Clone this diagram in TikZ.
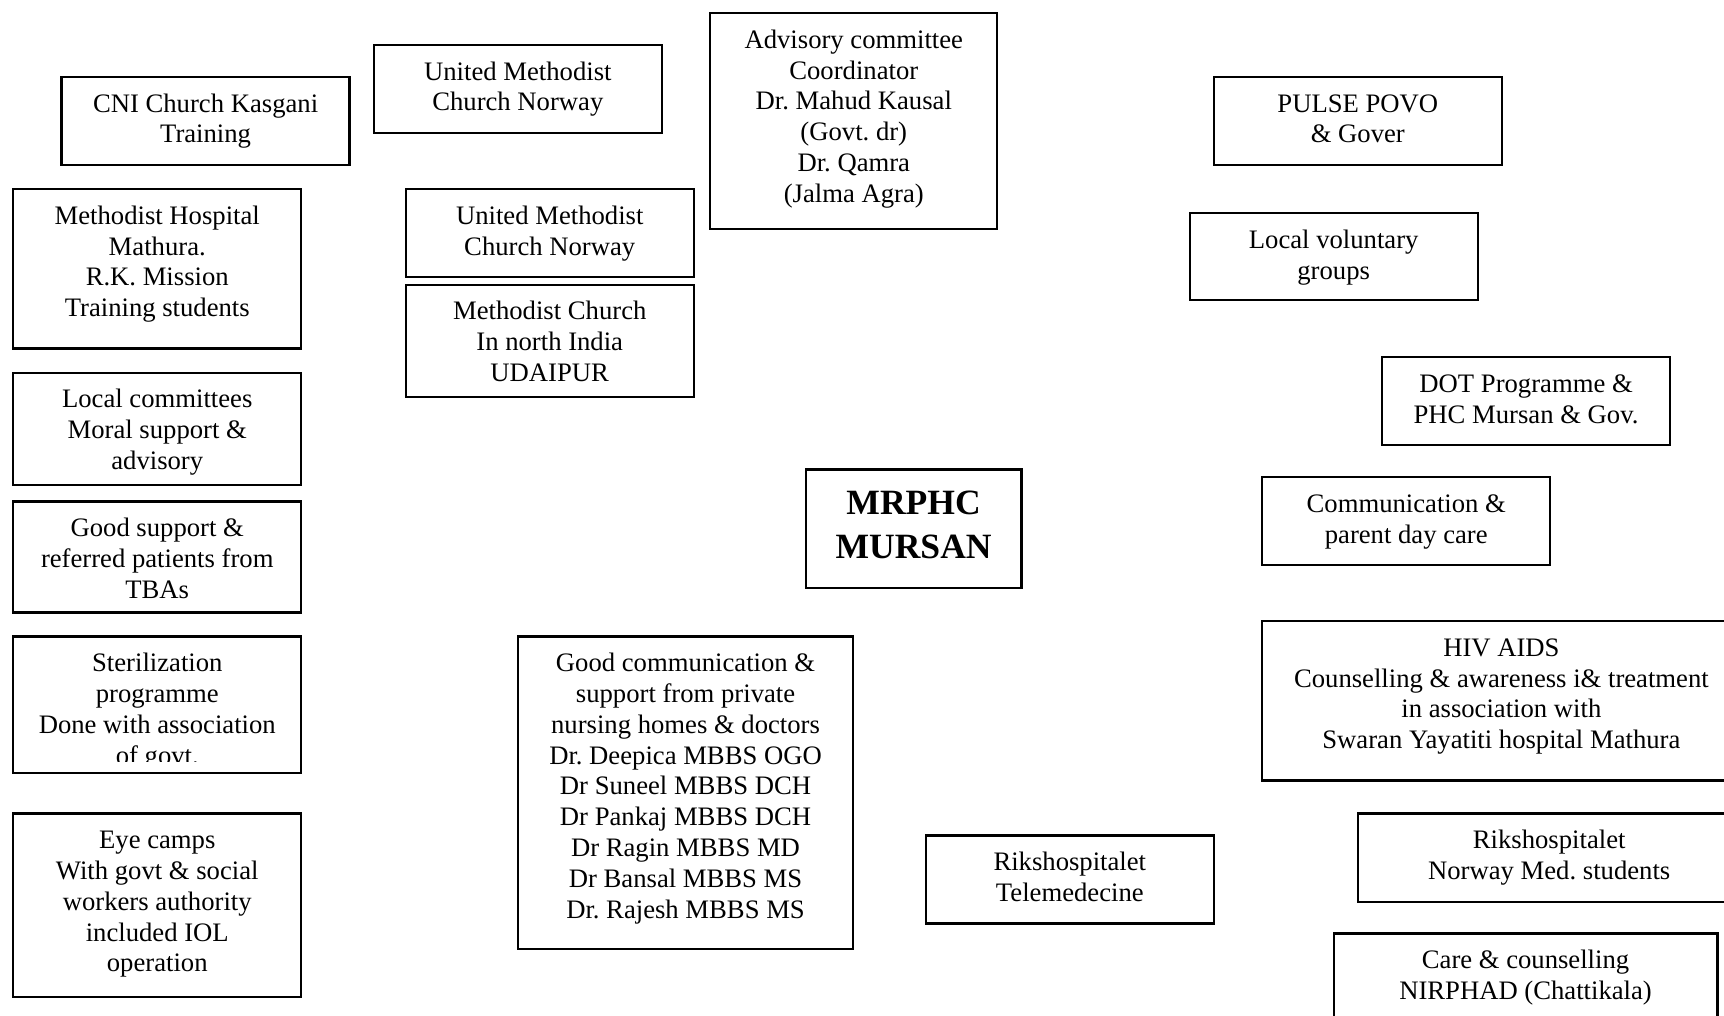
\documentclass[tikz,border=0pt]{standalone}
\usepackage{fontspec}
\setmainfont{Liberation Serif}
\usepackage{tikz}
\frenchspacing
\def\largeur{1724}
\def\hauteur{1016}
% box from (x1,y1) to (x2,y2), text hung from the top edge
\newcommand{\panel}[6]{%
	\draw[panel] (#2,#3) rectangle (#4,#5);
	\node[paneltext] (#1) at ({(#2+#4)/2},#3) {\strut #6};
}

\begin{document}
\begin{tikzpicture}[x=0.45pt, y=-0.45pt,
	panel/.style={line width=1pt, black},
	paneltext/.style={anchor=north, yshift=-5.9pt, align=center, inner sep=0pt, font=\fontsize{12}{13.86}\selectfont}]
	\clip (0,0) rectangle (\largeur,\hauteur);
	\fill[white] (0,0) rectangle (\largeur,\hauteur);
	% left column
	\panel{cni}{61.6}{77}{349.6}{165}{CNI Church Kasgani\\Training}
	\panel{hospital}{13.2}{189.1}{301.3}{348.5}{Methodist Hospital\\Mathura.\\R.K. Mission\\Training students}
	\panel{committees}{13.2}{372.7}{301.3}{484.9}{Local committees\\Moral support \&\\advisory}
	\panel{tba}{13.2}{501.4}{301.3}{612.4}{Good support \&\\referred patients from\\TBAs}
	\draw[panel] (13.2,636.6) rectangle (301.3,773);
	\begin{scope}
		\clip (13.2,636.6) rectangle (301.3,761);
		\node[paneltext] (sterilization) at (157.3,636.6) {\strut Sterilization\\programme\\Done with association\\of govt.};
	\end{scope}
	\panel{eyecamps}{13.2}{813.6}{301.3}{997.3}{Eye camps\\With govt \& social\\workers authority\\included IOL\\operation}
	% middle
	\panel{umcnorway}{373.8}{45}{661.9}{133}{United Methodist\\Church Norway}
	\panel{umcnorwayb}{405.7}{189.1}{693.8}{277.1}{United Methodist\\Church Norway}
	\panel{udaipur}{405.7}{284.8}{693.8}{396.9}{Methodist Church\\In north India\\UDAIPUR}
	\panel{advisory}{710.3}{13.2}{997.3}{228.7}{Advisory committee\\Coordinator\\Dr. Mahud Kausal\\(Govt. dr)\\Dr. Qamra\\(Jalma Agra)}
	\draw[panel] (805.9,469.5) rectangle (1021.4,588.2);
	\node[paneltext, yshift=-0.35pt, font=\fontsize{16}{19.8}\bfseries] (mrphc) at (913.6,469.5) {\strut MRPHC\\MURSAN};
	\panel{private}{517.9}{636.6}{853.2}{948.9}{Good communication \&\\support from private\\nursing homes \& doctors\\Dr. Deepica MBBS OGO\\Dr Suneel MBBS DCH\\Dr Pankaj MBBS DCH\\Dr Ragin MBBS MD\\Dr Bansal MBBS MS\\Dr. Rajesh MBBS MS}
	\panel{telemed}{925.8}{835.6}{1213.8}{923.6}{Rikshospitalet\\Telemedecine}
	% right column
	\panel{pulse}{1213.8}{77}{1501.9}{165}{PULSE POVO\\\& Gover}
	\panel{voluntary}{1189.7}{213.3}{1477.7}{300.2}{Local voluntary\\groups}
	\panel{dot}{1382.1}{357.3}{1670.1}{445.3}{DOT Programme \&\\PHC Mursan \& Gov.}
	\panel{daycare}{1262.2}{477.2}{1550.3}{565.1}{Communication \&\\parent day care}
	\panel{hiv}{1262.2}{621.2}{1740.6}{780.6}{HIV AIDS\\Counselling \& awareness i\& treatment\\in association with\\Swaran Yayatiti hospital Mathura}
	\panel{students}{1357.9}{813.6}{1740.5}{901.7}{Rikshospitalet\\Norway Med. students}
	\panel{nirphad}{1333.7}{933.5}{1717.4}{1040}{Care \& counselling\\NIRPHAD (Chattikala)}
\end{tikzpicture}
\end{document}
